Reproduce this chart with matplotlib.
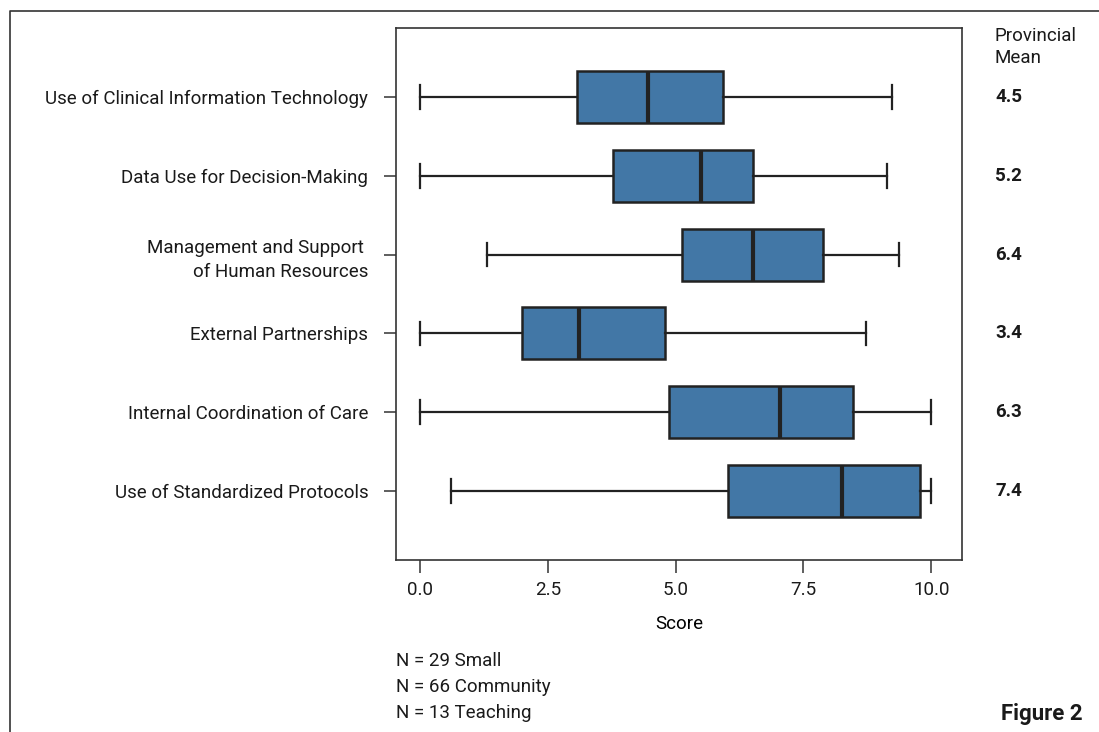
import matplotlib.pyplot as plt
from matplotlib.lines import Line2D

# ── Data ──────────────────────────────────────────────────────────────────────
domains = [
    "Use of Clinical Information Technology",
    "Data Use for Decision-Making",
    "Management and Support \nof Human Resources",
    "External Partnerships",
    "Internal Coordination of Care",
    "Use of Standardized Protocols",
]
whisker_lo = [0.0, 0.0, 1.31, 0.0, 0.0, 0.60]
q1 = [3.07, 3.78, 5.13, 1.99, 4.87, 6.03]
medians = [4.46, 5.50, 6.52, 3.11, 7.05, 8.25]
q3 = [5.93, 6.52, 7.88, 4.80, 8.47, 9.77]
whisker_hi = [9.24, 9.14, 9.36, 8.73, 10.0, 10.0]
provincial_mean = ["4.5", "5.2", "6.4", "3.4", "6.3", "7.4"]
sample_notes = ["N = 29 Small", "N = 66 Community", "N = 13 Teaching"]

plt.rcParams['font.family'] = ['Roboto', 'DejaVu Sans']
plt.rcParams['text.color'] = '#1a1a1a'

fs = 13.5

fig = plt.figure(figsize=(10.99, 7.32), dpi=100)
ax = fig.add_axes([0.3603, 0.235, 0.515, 0.7268])

stats = []
for i in range(len(domains)):
    stats.append(dict(whislo=whisker_lo[i], q1=q1[i], med=medians[i],
                      q3=q3[i], whishi=whisker_hi[i], fliers=[]))

positions = list(range(len(domains)))
edge = '#222222'
ax.bxp(stats, positions=positions, vert=False, widths=0.66, capwidths=0.3,
       patch_artist=True, showfliers=False,
       boxprops=dict(facecolor='#4277a6', edgecolor=edge, linewidth=1.8),
       medianprops=dict(color=edge, linewidth=3.0),
       whiskerprops=dict(color=edge, linewidth=1.6),
       capprops=dict(color=edge, linewidth=1.6))

ax.set_ylim(5.88, -0.88)
ax.set_xlim(-0.47, 10.6)
ax.set_xticks([0, 2.5, 5.0, 7.5, 10.0])
ax.set_xticklabels(["0.0", "2.5", "5.0", "7.5", "10.0"])
ax.set_yticks(positions)
ax.set_yticklabels(domains, ha='right', multialignment='right', linespacing=1.45)
ax.tick_params(axis='y', length=9, width=1.1, pad=11, labelsize=fs,
               color='#333333', labelcolor='#1a1a1a')
ax.tick_params(axis='x', length=9, width=1.1, pad=6, labelsize=fs,
               color='#333333', labelcolor='#1a1a1a')
for s in ax.spines.values():
    s.set_linewidth(1.2)
    s.set_color('#333333')
ax.set_xlabel("Score", fontsize=fs, labelpad=12)

# Provincial mean column on the right
fig.text(995 / 1099, 1 - 36 / 732, "Provincial", fontsize=fs, va='center', ha='left')
fig.text(995 / 1099, 1 - 58 / 732, "Mean", fontsize=fs, va='center', ha='left')
for i, val in enumerate(provincial_mean):
    ax.annotate(val, xy=(995 / 1099, positions[i]), xycoords=('figure fraction', 'data'),
                fontsize=fs, fontweight='bold', va='center', ha='left')

# sample sizes under the plot
for k, note in enumerate(sample_notes):
    fig.text(396 / 1099, 1 - (661 + 26 * k) / 732, note, fontsize=fs, va='center', ha='left')

fig.text(1083 / 1099, 1 - 714 / 732, "Figure 2", fontsize=16, fontweight='bold',
         va='center', ha='right')

# outer frame (top and left edges only)
fx = 10 / 1099
fy = 1 - 11 / 732
fig.add_artist(Line2D([fx, fx, 1.0], [0.0, fy, fy], transform=fig.transFigure,
                      color='#333333', linewidth=1.2))

fig.savefig("out.png", dpi=100)
